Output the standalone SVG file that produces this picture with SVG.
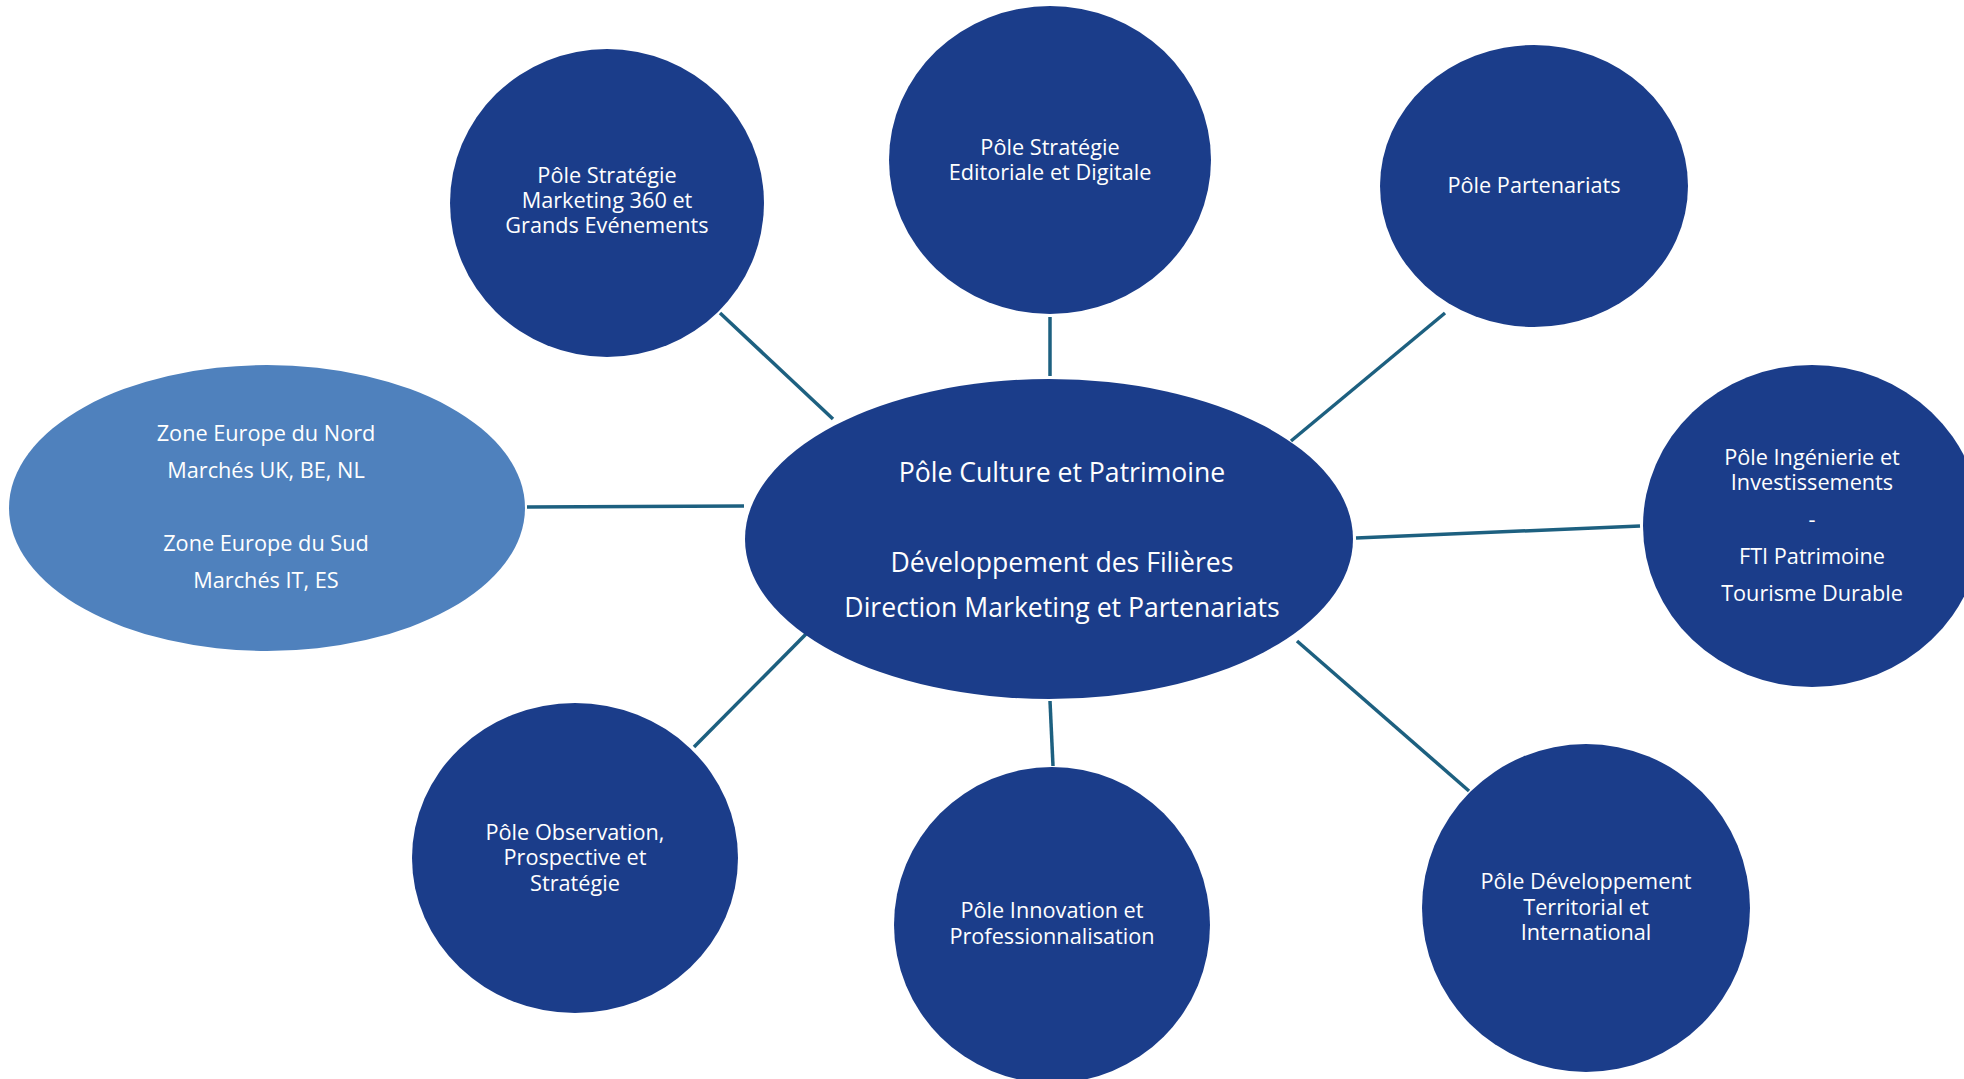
<svg xmlns="http://www.w3.org/2000/svg" width="1964" height="1079" viewBox="0 0 1964 1079">
<style>
.n{fill:#1B3D8A}
.z{fill:#4F81BD}
.c line{stroke:#1D6080;stroke-width:3.5;stroke-linecap:butt}
text{font-family:"Open Sans","Liberation Sans",sans-serif;fill:#FFFFFF;text-anchor:middle}
.s{font-size:21.7px}
.b{font-size:26.6px}
</style>
<rect width="1964" height="1079" fill="#FFFFFF"/>
<g id="connectors" class="c">
<line x1="720" y1="313" x2="833" y2="419"/>
<line x1="1050" y1="317" x2="1050" y2="376"/>
<line x1="1445" y1="313" x2="1291" y2="441"/>
<line x1="1356" y1="538" x2="1640" y2="526"/>
<line x1="1297" y1="641" x2="1469" y2="791"/>
<line x1="1050" y1="701" x2="1053" y2="766"/>
<line x1="808" y1="632" x2="694" y2="747"/>
<line x1="527" y1="507" x2="744" y2="506"/>
</g>
<g id="center">
<ellipse class="n" cx="1049" cy="539" rx="304" ry="160"/>
<text class="b" x="1062" y="482">Pôle Culture et Patrimoine</text>
<text class="b" x="1062" y="572">Développement des Filières</text>
<text class="b" x="1062" y="617">Direction Marketing et Partenariats</text>
</g>
<g id="zones">
<ellipse class="z" cx="267" cy="508" rx="258" ry="143"/>
<text class="s" x="266" y="441">Zone Europe du Nord</text>
<text class="s" x="266" y="478">Marchés UK, BE, NL</text>
<text class="s" x="266" y="551">Zone Europe du Sud</text>
<text class="s" x="266" y="588">Marchés IT, ES</text>
</g>
<g id="marketing">
<ellipse class="n" cx="607" cy="203" rx="157" ry="154"/>
<text class="s" x="607" y="183">Pôle Stratégie</text>
<text class="s" x="607" y="208">Marketing 360 et</text>
<text class="s" x="607" y="233">Grands Evénements</text>
</g>
<g id="editoriale">
<ellipse class="n" cx="1050" cy="160" rx="161" ry="154"/>
<text class="s" x="1050" y="155">Pôle Stratégie</text>
<text class="s" x="1050" y="180">Editoriale et Digitale</text>
</g>
<g id="partenariats">
<ellipse class="n" cx="1534" cy="186" rx="154" ry="141"/>
<text class="s" x="1534" y="193">Pôle Partenariats</text>
</g>
<g id="ingenierie">
<ellipse class="n" cx="1812" cy="526" rx="169" ry="161"/>
<text class="s" x="1812" y="465">Pôle Ingénierie et</text>
<text class="s" x="1812" y="490">Investissements</text>
<text class="s" x="1812" y="527">-</text>
<text class="s" x="1812" y="564">FTI Patrimoine</text>
<text class="s" x="1812" y="601">Tourisme Durable</text>
</g>
<g id="territorial">
<ellipse class="n" cx="1586" cy="908" rx="164" ry="164"/>
<text class="s" x="1586" y="889">Pôle Développement</text>
<text class="s" x="1586" y="915">Territorial et</text>
<text class="s" x="1586" y="940">International</text>
</g>
<g id="innovation">
<ellipse class="n" cx="1052" cy="925" rx="158" ry="158"/>
<text class="s" x="1052" y="918">Pôle Innovation et</text>
<text class="s" x="1052" y="944">Professionnalisation</text>
</g>
<g id="observation">
<ellipse class="n" cx="575" cy="858" rx="163" ry="155"/>
<text class="s" x="575" y="840">Pôle Observation,</text>
<text class="s" x="575" y="865">Prospective et</text>
<text class="s" x="575" y="891">Stratégie</text>
</g>
</svg>
